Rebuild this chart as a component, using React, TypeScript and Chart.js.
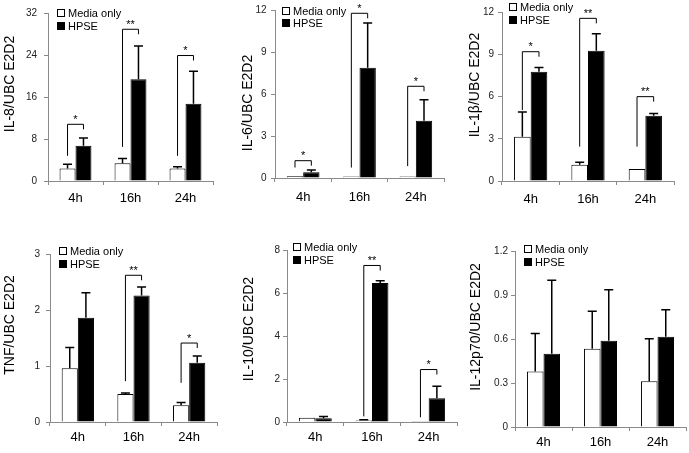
import React, { useEffect, useRef } from 'react';
import { Chart, registerables } from 'chart.js';

Chart.register(...registerables);

const FONT = '"Liberation Sans", Arial, Helvetica, sans-serif';
const AXIS = '#8a8a8a';

// ---------- data ----------
const categories = ['4h', '16h', '24h'];
const seriesLabels = ['Media only', 'HPSE'];

const il8Media = [2.4, 3.4, 2.4];
const il8MediaErr = [0.8, 0.9, 0.3];
const il8Hpse = [6.7, 19.4, 14.7];
const il8HpseErr = [1.5, 6.3, 6.2];
const il8BracketTop = [10.8, 28.9, 23.9];
const il8BracketFoot = [4.8, 6.5, 4.8];
const il8Stars = ['*', '**', '*'];

const il6Media = [0.12, 0.1, 0.1];
const il6MediaErr = [0, 0, 0];
const il6Hpse = [0.42, 7.9, 4.1];
const il6HpseErr = [0.15, 3.2, 1.5];
const il6BracketTop = [1.24, 11.8, 6.57];
const il6BracketFoot = [0.75, 0.75, 0.85];
const il6Stars = ['*', '*', '*'];

const il1bMedia = [3.15, 1.15, 0.85];
const il1bMediaErr = [1.75, 0.18, 0];
const il1bHpse = [7.76, 9.25, 4.64];
const il1bHpseErr = [0.3, 1.2, 0.16];
const il1bBracketTop = [9.18, 11.55, 5.99];
const il1bBracketFoot = [5.04, 2.44, 2.44];
const il1bStars = ['*', '**', '**'];

const tnfMedia = [0.96, 0.5, 0.3];
const tnfMediaErr = [0.37, 0.02, 0.05];
const tnfHpse = [1.86, 2.26, 1.06];
const tnfHpseErr = [0.45, 0.15, 0.12];
const tnfBracketTop = [null, 2.62, 1.41];
const tnfBracketFoot = [null, 0.73, 0.7];
const tnfStars = ['', '**', '*'];

const il10Media = [0.2, 0.07, 0.05];
const il10MediaErr = [0, 0.03, 0];
const il10Hpse = [0.18, 6.47, 1.1];
const il10HpseErr = [0.08, 0.1, 0.56];
const il10BracketTop = [null, 7.28, 2.44];
const il10BracketFoot = [null, 0.26, 0.22];
const il10Stars = ['', '**', '*'];

const il12Media = [0.378, 0.533, 0.312];
const il12MediaErr = [0.26, 0.257, 0.29];
const il12Hpse = [0.5, 0.588, 0.615];
const il12HpseErr = [0.5, 0.348, 0.185];
const il12BracketTop = [null, null, null];
const il12BracketFoot = [null, null, null];
const il12Stars = ['', '', ''];

const panelTitles = ['IL-8/UBC E2D2', 'IL-6/UBC E2D2', 'IL-1β/UBC E2D2', 'TNF/UBC E2D2', 'IL-10/UBC E2D2', 'IL-12p70/UBC E2D2'];
const panelMax = [32, 12, 12, 3, 8, 1.2];
const panelStep = [8, 3, 3, 1, 2, 0.3];

const panels = [
  { media: il8Media, mediaErr: il8MediaErr, hpse: il8Hpse, hpseErr: il8HpseErr, bTop: il8BracketTop, bFoot: il8BracketFoot, stars: il8Stars },
  { media: il6Media, mediaErr: il6MediaErr, hpse: il6Hpse, hpseErr: il6HpseErr, bTop: il6BracketTop, bFoot: il6BracketFoot, stars: il6Stars },
  { media: il1bMedia, mediaErr: il1bMediaErr, hpse: il1bHpse, hpseErr: il1bHpseErr, bTop: il1bBracketTop, bFoot: il1bBracketFoot, stars: il1bStars },
  { media: tnfMedia, mediaErr: tnfMediaErr, hpse: tnfHpse, hpseErr: tnfHpseErr, bTop: tnfBracketTop, bFoot: tnfBracketFoot, stars: tnfStars },
  { media: il10Media, mediaErr: il10MediaErr, hpse: il10Hpse, hpseErr: il10HpseErr, bTop: il10BracketTop, bFoot: il10BracketFoot, stars: il10Stars },
  { media: il12Media, mediaErr: il12MediaErr, hpse: il12Hpse, hpseErr: il12HpseErr, bTop: il12BracketTop, bFoot: il12BracketFoot, stars: il12Stars },
].map((p, i) => ({ ...p, title: panelTitles[i], max: panelMax[i], step: panelStep[i] }));

// ---------- layout (pixels) ----------
const layouts = [
  { left: 0, top: 0, width: 230, height: 226, areaLeft: 48, areaRight: 213, areaTop: 12, areaBottom: 181, titleX: 10, titleY: 84, yPad: 7, xPad: 5.2, legDx: 9, legDy: 0 },
  { left: 230, top: 0, width: 230, height: 226, areaLeft: 275, areaRight: 444, areaTop: 7, areaBottom: 178, titleX: 248, titleY: 103, yPad: 4.5, xPad: 7.2, legDx: 7, legDy: 0 },
  { left: 460, top: 0, width: 229, height: 226, areaLeft: 502, areaRight: 674, areaTop: 12, areaBottom: 181, titleX: 475, titleY: 85, yPad: 4, xPad: 6.2, legDx: 7, legDy: -5 },
  { left: 0, top: 226, width: 230, height: 227, areaLeft: 50, areaRight: 217, areaTop: 254, areaBottom: 422, titleX: 10, titleY: 325, yPad: 6, xPad: 3.2, legDx: 9, legDy: -3 },
  { left: 230, top: 226, width: 230, height: 227, areaLeft: 287, areaRight: 457, areaTop: 250, areaBottom: 422, titleX: 249, titleY: 329, yPad: 3, xPad: 3.2, legDx: 6, legDy: -3 },
  { left: 460, top: 226, width: 229, height: 227, areaLeft: 515, areaRight: 686, areaTop: 251, areaBottom: 427, titleX: 476, titleY: 327, yPad: 3, xPad: 3.7, legDx: 9, legDy: -2 },
];

type PanelCfg = (typeof panels)[number];
type Layout = (typeof layouts)[number];

function makeOverlay(cfg: PanelCfg, lay: Layout) {
  return {
    id: 'overlay',
    afterDatasetsDraw(chart: any) {
      const { ctx, chartArea } = chart;
      const xs = chart.scales.x;
      const ys = chart.scales.y;
      const metas = [chart.getDatasetMeta(0), chart.getDatasetMeta(1)];
      const errs = [cfg.mediaErr, cfg.hpseErr];
      const vals = [cfg.media, cfg.hpse];
      ctx.save();
      ctx.strokeStyle = '#000';
      // error bars (upper half)
      metas.forEach((meta, di) => {
        meta.data.forEach((bar: any, i: number) => {
          const e = errs[di][i];
          if (!e) return;
          const top = ys.getPixelForValue(vals[di][i] + e);
          ctx.lineWidth = 1.5;
          ctx.beginPath();
          ctx.moveTo(bar.x, bar.y);
          ctx.lineTo(bar.x, top);
          ctx.moveTo(bar.x - 4.5, top);
          ctx.lineTo(bar.x + 4.5, top);
          ctx.stroke();
        });
      });
      // significance brackets
      ctx.lineWidth = 1;
      ctx.fillStyle = '#000';
      ctx.font = `11px ${FONT}`;
      ctx.textAlign = 'center';
      ctx.textBaseline = 'alphabetic';
      cfg.bTop.forEach((t: number | null, i: number) => {
        if (t == null) return;
        const lx = metas[0].data[i].x;
        const rx = metas[1].data[i].x;
        const ty = ys.getPixelForValue(t);
        const fy = ys.getPixelForValue(cfg.bFoot[i] as number);
        ctx.beginPath();
        ctx.moveTo(lx, fy);
        ctx.lineTo(lx, ty);
        ctx.lineTo(rx, ty);
        ctx.lineTo(rx, ty + 5);
        ctx.stroke();
        ctx.fillText(cfg.stars[i], xs.getPixelForValue(i), ty - 1.5);
      });
      // legend
      chart.data.datasets.forEach((ds: any, k: number) => {
        const bx = Math.round(chartArea.left + lay.legDx);
        const cy = Math.round(chartArea.top + lay.legDy + k * 12.5);
        ctx.fillStyle = ds.backgroundColor;
        ctx.fillRect(bx, cy - 4, 8, 8);
        ctx.strokeStyle = '#000';
        ctx.lineWidth = 1;
        ctx.strokeRect(bx + 0.5, cy - 3.5, 7, 7);
        ctx.fillStyle = '#000';
        ctx.textAlign = 'left';
        ctx.textBaseline = 'middle';
        ctx.fillText(ds.label, bx + 11, cy + 0.5);
      });
      // y-axis title
      ctx.save();
      ctx.translate(lay.titleX - lay.left, lay.titleY - lay.top);
      ctx.rotate(-Math.PI / 2);
      ctx.font = `14px ${FONT}`;
      ctx.fillStyle = '#000';
      ctx.textAlign = 'center';
      ctx.textBaseline = 'middle';
      ctx.fillText(cfg.title, 0, 0);
      ctx.restore();
      ctx.restore();
    },
  };
}

function Panel({ cfg, lay }: { cfg: PanelCfg; lay: Layout }) {
  const ref = useRef<HTMLCanvasElement>(null);
  useEffect(() => {
    const chart = new Chart(ref.current as HTMLCanvasElement, {
      type: 'bar',
      data: {
        labels: categories,
        datasets: [
          { label: seriesLabels[0], data: cfg.media, backgroundColor: '#ffffff', borderColor: '#000000', borderWidth: 1 },
          { label: seriesLabels[1], data: cfg.hpse, backgroundColor: '#000000', borderColor: '#000000', borderWidth: 1 },
        ],
      },
      options: {
        responsive: false,
        animation: false,
        events: [],
        layout: {
          padding: { top: lay.areaTop - lay.top, right: lay.left + lay.width - lay.areaRight, left: 0, bottom: 0 },
        },
        datasets: { bar: { categoryPercentage: 0.58, barPercentage: 1 } },
        plugins: { legend: { display: false }, tooltip: { enabled: false } },
        scales: {
          x: {
            grid: { offset: true, drawOnChartArea: false, drawTicks: true, tickLength: 4, color: AXIS },
            border: { color: AXIS },
            ticks: { font: { family: FONT, size: 13 }, color: '#000', padding: lay.xPad, maxRotation: 0 },
            afterFit: (s: any) => { s.height = lay.top + lay.height - lay.areaBottom; },
          },
          y: {
            min: 0,
            max: cfg.max,
            ticks: {
              stepSize: cfg.step,
              font: { family: FONT, size: 10 },
              color: '#222',
              padding: lay.yPad,
              callback: (v: any) => (cfg.step < 1 ? (Number(v) === 0 ? '0' : Number(v).toFixed(1)) : String(v)),
            },
            grid: { drawOnChartArea: false, tickLength: 4, color: AXIS },
            border: { color: AXIS },
            title: { display: false, text: cfg.title },
            afterFit: (s: any) => { s.width = lay.areaLeft - lay.left; },
          },
        },
      } as any,
      plugins: [makeOverlay(cfg, lay)],
    });
    return () => chart.destroy();
  }, []);
  return (
    <canvas
      ref={ref}
      width={lay.width}
      height={lay.height}
      style={{ position: 'absolute', left: lay.left, top: lay.top, width: lay.width, height: lay.height }}
    />
  );
}

export default function App() {
  return (
    <div style={{ position: 'fixed', left: 0, top: 0, width: 689, height: 453, background: '#fff' }}>
      {panels.map((p, i) => (
        <Panel key={i} cfg={p} lay={layouts[i]} />
      ))}
    </div>
  );
}
